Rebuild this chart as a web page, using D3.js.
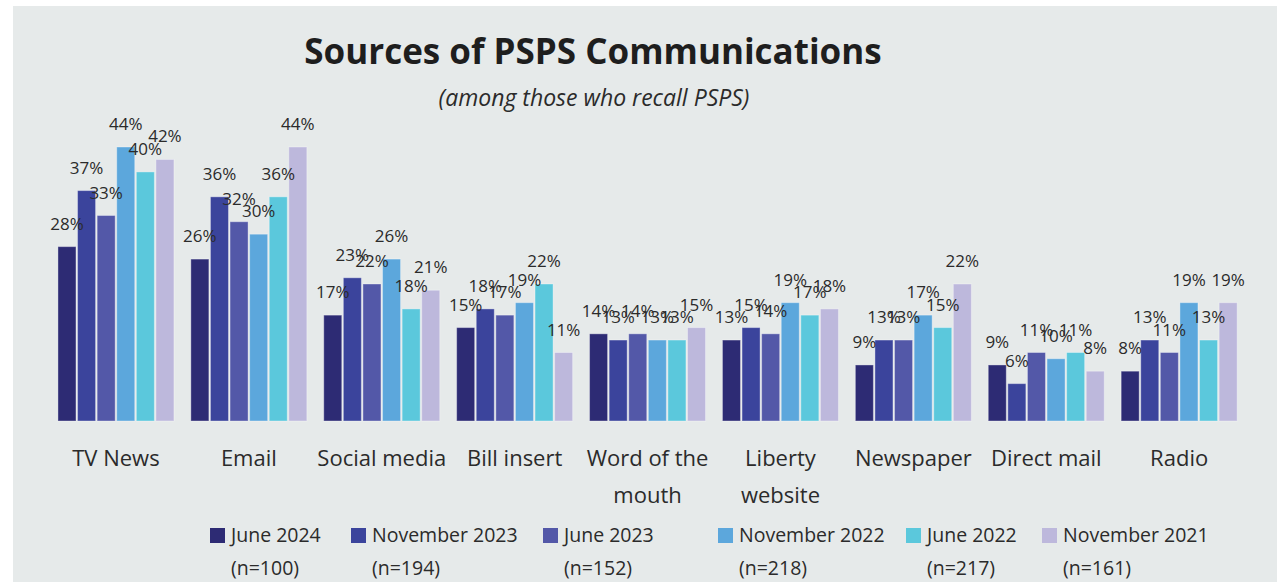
<!DOCTYPE html>
<html lang="en">
<head>
	<meta charset="UTF-8">
	<title>Sources of PSPS Communications</title>
	<script src="https://d3js.org/d3.v7.min.js"></script>
	<style>
		body{ margin:0; background:#fff; }
		svg text{ font-family:"Open Sans", sans-serif; fill:#2b2b2b; }
	</style>
</head>
<body>
	<div id="chart"></div>
	<script>
		// categories + series
		const categories=[["TV News"],["Email"],["Social media"],["Bill insert"],["Word of the","mouth"],["Liberty","website"],["Newspaper"],["Direct mail"],["Radio"]];
		const seriesNames=["June 2024","November 2023","June 2023","November 2022","June 2022","November 2021"];
		const seriesN=["(n=100)","(n=194)","(n=152)","(n=218)","(n=217)","(n=161)"];
		const colors=["#2d2b74","#3b449c","#5358a8","#5ca7dc","#5bc8dc","#bdb8dc"];
		const june2024=[28,26,17,15,14,13,9,9,8];
		const nov2023=[37,36,23,18,13,15,13,6,13];
		const june2023=[33,32,22,17,14,14,13,11,11];
		const nov2022=[44,30,26,19,13,19,17,10,19];
		const june2022=[40,36,18,22,13,17,15,11,13];
		const nov2021=[42,44,21,11,15,18,22,8,19];
		const values=[june2024,nov2023,june2023,nov2022,june2022,nov2021];

		const width=1277, height=582;
		const svg=d3.select('#chart').append('svg')
			.attr('width',width).attr('height',height);

		// grey panel
		svg.append('rect').attr('x',13).attr('y',6)
			.attr('width',width-13).attr('height',height-6)
			.attr('fill','#e6eaea');

		// title
		svg.append('text').attr('x',593).attr('y',64)
			.attr('text-anchor','middle')
			.style('font-size','35px').style('font-weight','bold')
			.style('fill','#1e1e1e')
			.text('Sources of PSPS Communications');
		svg.append('text').attr('x',594).attr('y',106)
			.attr('text-anchor','middle')
			.style('font-size','23px').style('font-style','italic')
			.text('(among those who recall PSPS)');

		//scales
		const x0=d3.scaleBand()
			.domain(d3.range(categories.length))
			.range([49.5,1245.6]);
		const x1=d3.scaleBand()
			.domain(d3.range(seriesNames.length))
			.range([-58,58])
			.paddingInner(0.08);
		const y=d3.scaleLinear().domain([0,44]).range([421,147]);

		const groups=svg.append('g').selectAll('g')
			.data(categories).enter().append('g')
			.attr('transform',(d,i)=>`translate(${x0(i)+x0.bandwidth()/2},0)`);

		groups.each(function(cat,ci){
			const g=d3.select(this);
			const rows=values.map((s,si)=>({si:si,v:s[ci]}));
			g.selectAll('rect').data(rows).enter().append('rect')
				.attr('x',d=>x1(d.si))
				.attr('y',d=>y(d.v))
				.attr('width',x1.bandwidth())
				.attr('height',d=>y(0)-y(d.v))
				.attr('fill',d=>colors[d.si])
				.attr('stroke','rgba(255,255,255,0.35)')
				.attr('stroke-width',1);
			g.selectAll('text.val').data(rows).enter().append('text')
				.attr('class','val')
				.attr('x',d=>x1(d.si)+x1.bandwidth()/2)
				.attr('y',d=>y(d.v)-17)
				.attr('text-anchor','middle')
				.style('font-size','17px')
				.text(d=>d.v+'%');
			//category name
			g.selectAll('text.cat').data(cat).enter().append('text')
				.attr('class','cat')
				.attr('x',0)
				.attr('y',(d,i)=>466+i*37)
				.attr('text-anchor','middle')
				.style('font-size','22px')
				.text(d=>d);
		});

		// legend
		const legendX=[210,351,543,718,906,1042];
		seriesNames.forEach((name,i)=>{
			const lg=svg.append('g').attr('transform',`translate(${legendX[i]},0)`);
			lg.append('rect').attr('x',0).attr('y',528)
				.attr('width',15).attr('height',15)
				.attr('fill',colors[i]);
			lg.append('text').attr('x',21).attr('y',542)
				.style('font-size','19.5px').text(name);
			lg.append('text').attr('x',21).attr('y',575)
				.style('font-size','19.5px').text(seriesN[i]);
		});
	</script>
</body>
</html>
